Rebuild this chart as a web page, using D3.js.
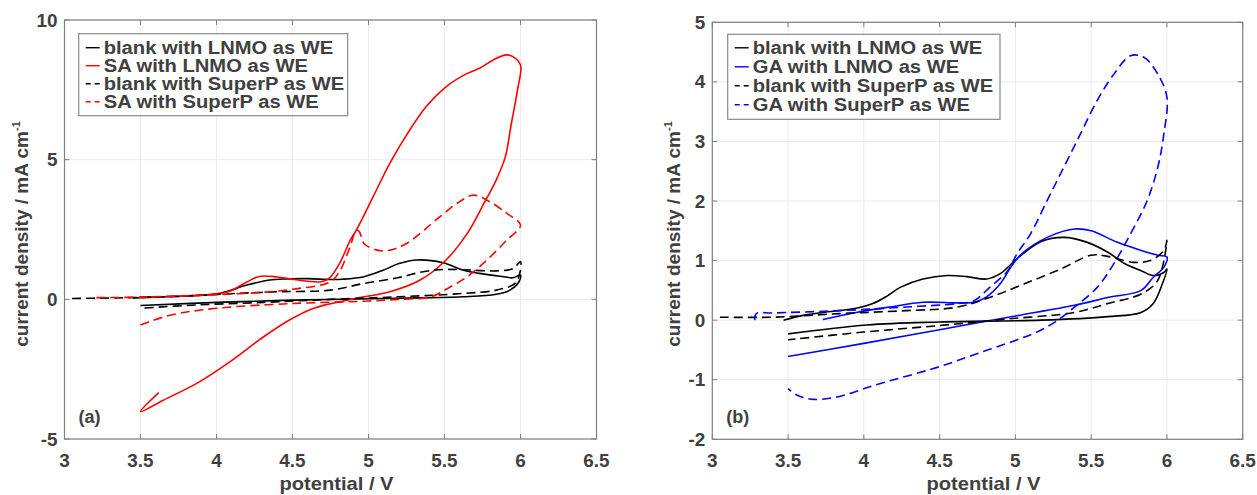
<!DOCTYPE html>
<html>
<head>
<meta charset="utf-8">
<script src="https://cdn.jsdelivr.net/npm/d3@7"></script>
<style>
  body { margin: 0; background: #fff; }
  svg { display: block; }
  text { font-family: "Liberation Sans", Arial, sans-serif; font-weight: bold; fill: #404040; }
</style>
</head>
<body>
<svg id="chart" width="1257" height="495"></svg>
<script>
// ticks
var xTicks = [3, 3.5, 4, 4.5, 5, 5.5, 6, 6.5];
var yTicksA = [-5, 0, 5, 10];
var yTicksB = [-2, -1, 0, 1, 2, 3, 4, 5];

// panel (a): [potential V, current mA cm-1]
var blankLnmoA = [[3.45,0.05],[3.6,0.08],[3.8,0.12],[4.02,0.21],[4.2,0.51],[4.35,0.69],[4.45,0.73],[4.6,0.74],[4.75,0.71],[4.83,0.72],[4.97,0.81],[5.1,1.05],[5.2,1.28],[5.32,1.41],[5.49,1.31],[5.62,1.05],[5.73,0.93],[5.89,0.81],[5.95,0.77],[6.0,0.87],[5.99,0.63],[5.93,0.33],[5.84,0.18],[5.62,0.09],[5.19,0.04],[4.5,-0.03],[4.0,-0.11],[3.5,-0.22]];
var saLnmoA = [[3.5,0.08],[3.8,0.12],[4.0,0.2],[4.09,0.3],[4.2,0.62],[4.28,0.82],[4.4,0.8],[4.5,0.72],[4.6,0.65],[4.69,0.63],[4.74,0.75],[4.81,1.29],[4.88,2.12],[4.92,2.48],[5.03,3.67],[5.14,4.87],[5.25,5.88],[5.38,6.9],[5.51,7.61],[5.65,8.09],[5.73,8.27],[5.82,8.57],[5.91,8.75],[5.95,8.69],[6.0,8.39],[5.98,7.49],[5.94,6.3],[5.9,5.1],[5.84,4.27],[5.76,3.44],[5.65,2.36],[5.51,1.41],[5.34,0.69],[5.14,0.27],[4.92,0.04],[4.86,-0.03],[4.64,-0.32],[4.48,-0.74],[4.31,-1.34],[4.09,-2.23],[3.87,-3.01],[3.65,-3.61],[3.5,-4.02],[3.62,-3.34]];
var blankSuperPA = [[3.05,0.03],[3.3,0.05],[3.5,0.07],[3.8,0.12],[4.09,0.2],[4.4,0.27],[4.75,0.33],[4.97,0.57],[5.19,0.77],[5.36,0.99],[5.49,1.07],[5.62,1.06],[5.84,1.02],[5.95,1.1],[6.0,1.35],[5.97,0.6],[5.84,0.33],[5.62,0.21],[5.19,0.09],[4.75,0.0],[4.31,-0.11],[3.87,-0.2],[3.5,-0.32]];
var saSuperPA = [[3.21,0.06],[3.5,0.08],[4.0,0.17],[4.3,0.25],[4.5,0.36],[4.75,0.63],[4.81,1.0],[4.88,1.9],[4.92,2.48],[4.94,2.42],[4.97,2.0],[5.05,1.77],[5.12,1.74],[5.25,2.0],[5.47,2.96],[5.6,3.5],[5.69,3.73],[5.78,3.55],[5.91,3.08],[6.0,2.66],[5.91,2.12],[5.78,1.41],[5.65,0.81],[5.52,0.39],[5.41,0.09],[5.2,0.0],[5.0,-0.06],[4.5,-0.15],[4.0,-0.32],[3.7,-0.56],[3.56,-0.8],[3.5,-0.92]];

// panel (b)
var blankLnmoB = [[3.47,0.0],[3.6,0.08],[3.73,0.13],[3.95,0.2],[4.06,0.28],[4.15,0.4],[4.24,0.55],[4.39,0.69],[4.55,0.75],[4.68,0.73],[4.81,0.69],[4.9,0.78],[5.01,1.03],[5.17,1.32],[5.32,1.39],[5.47,1.31],[5.61,1.14],[5.72,0.95],[5.83,0.83],[5.91,0.75],[5.98,0.8],[6.0,0.86],[5.97,0.61],[5.91,0.28],[5.83,0.13],[5.61,0.06],[5.17,0.0],[4.5,-0.03],[4.02,-0.08],[3.5,-0.23]];
var gaLnmoB = [[3.73,0.01],[3.95,0.13],[4.17,0.22],[4.39,0.3],[4.62,0.29],[4.73,0.3],[4.81,0.39],[4.9,0.61],[4.97,0.89],[5.04,1.11],[5.21,1.39],[5.39,1.53],[5.5,1.5],[5.67,1.31],[5.83,1.17],[5.94,1.09],[6.0,1.06],[5.98,0.89],[5.91,0.72],[5.83,0.5],[5.61,0.38],[5.39,0.25],[5.0,0.07],[4.5,-0.16],[4.0,-0.39],[3.5,-0.61]];
var blankSuperPB = [[3.05,0.05],[3.4,0.05],[3.84,0.11],[4.28,0.16],[4.62,0.22],[4.84,0.39],[5.06,0.61],[5.3,0.86],[5.5,1.09],[5.61,1.07],[5.78,0.97],[5.89,1.0],[5.98,1.17],[6.0,1.34],[5.94,0.67],[5.83,0.44],[5.61,0.28],[5.39,0.13],[4.95,0.02],[4.5,-0.09],[4.0,-0.2],[3.5,-0.33]];
var gaSuperPB = [[3.28,0.0],[3.29,0.11],[3.4,0.12],[3.84,0.16],[4.28,0.22],[4.62,0.28],[4.73,0.33],[4.83,0.55],[4.95,0.83],[5.01,1.11],[5.1,1.45],[5.21,2.01],[5.32,2.57],[5.43,3.13],[5.54,3.69],[5.65,4.13],[5.76,4.44],[5.85,4.41],[5.94,4.13],[6.0,3.74],[5.98,3.13],[5.94,2.57],[5.87,2.01],[5.76,1.45],[5.65,0.95],[5.54,0.55],[5.39,0.22],[5.28,0.0],[5.15,-0.19],[5.0,-0.34],[4.75,-0.56],[4.5,-0.78],[4.06,-1.1],[3.84,-1.28],[3.67,-1.33],[3.56,-1.26],[3.5,-1.15]];

var namesA = ["blank with LNMO as WE", "SA with LNMO as WE", "blank with SuperP as WE", "SA with SuperP as WE"];
var namesB = ["blank with LNMO as WE", "GA with LNMO as WE", "blank with SuperP as WE", "GA with SuperP as WE"];

var svg = d3.select("#chart");

function stretch(sel, k)
{
    sel.each(function () {
        var w = this.getComputedTextLength();
        d3.select(this).attr("textLength", w * k).attr("lengthAdjust", "spacingAndGlyphs");
    });
}

function drawPanel(cfg)
{
    var x = d3.scaleLinear().domain([3, 6.5]).range([cfg.left, cfg.right]);
    var y = d3.scaleLinear().domain(cfg.yDomain).range([cfg.bottom, cfg.top]);
    var g = svg.append("g");

    // grid
    g.selectAll(".gx").data(xTicks).enter().append("line")
        .attr("x1", d => x(d)).attr("x2", d => x(d))
        .attr("y1", cfg.top).attr("y2", cfg.bottom)
        .attr("stroke", "#ebebeb").attr("stroke-width", 1);
    g.selectAll(".gy").data(cfg.yTicks).enter().append("line")
        .attr("x1", cfg.left).attr("x2", cfg.right)
        .attr("y1", d => y(d)).attr("y2", d => y(d))
        .attr("stroke", "#ebebeb").attr("stroke-width", 1);

    // box + inner ticks
    g.append("rect")
        .attr("x", cfg.left).attr("y", cfg.top)
        .attr("width", cfg.right - cfg.left).attr("height", cfg.bottom - cfg.top)
        .attr("fill", "none").attr("stroke", "#808080").attr("stroke-width", 1.2);
    var tl = 5;
    xTicks.forEach(function (t) {
        g.append("line").attr("x1", x(t)).attr("x2", x(t)).attr("y1", cfg.bottom).attr("y2", cfg.bottom - tl).attr("stroke", "#808080");
        g.append("line").attr("x1", x(t)).attr("x2", x(t)).attr("y1", cfg.top).attr("y2", cfg.top + tl).attr("stroke", "#808080");
    });
    cfg.yTicks.forEach(function (t) {
        g.append("line").attr("x1", cfg.left).attr("x2", cfg.left + tl).attr("y1", y(t)).attr("y2", y(t)).attr("stroke", "#808080");
        g.append("line").attr("x1", cfg.right).attr("x2", cfg.right - tl).attr("y1", y(t)).attr("y2", y(t)).attr("stroke", "#808080");
    });

    // tick labels
    g.selectAll(".tx").data(xTicks).enter().append("text")
        .attr("x", d => x(d)).attr("y", cfg.bottom + 28)
        .attr("text-anchor", "middle").attr("font-size", 18)
        .text(d => d)
        .call(stretch, 1.05);
    g.selectAll(".ty").data(cfg.yTicks).enter().append("text")
        .attr("x", cfg.left - 7).attr("y", d => y(d) + 6.5)
        .attr("text-anchor", "end").attr("font-size", 18)
        .text(d => d)
        .call(stretch, 1.05);

    // axis labels
    g.append("text")
        .attr("x", (cfg.left + cfg.right) / 2 + 6).attr("y", 490)
        .attr("text-anchor", "middle").attr("font-size", 19)
        .text("potential / V")
        .call(stretch, 1.06);
    var yl = g.append("text")
        .attr("transform", "translate(" + cfg.ylabX + "," + cfg.ylabY + ") rotate(-90)")
        .attr("text-anchor", "middle").attr("font-size", 19);
    yl.append("tspan").text("current density / mA cm");
    yl.append("tspan").attr("font-size", 11).attr("dy", -8).text("-1");

    g.append("text")
        .attr("x", cfg.left + 14).attr("y", cfg.bottom - 16)
        .attr("font-size", 18).text(cfg.tag);

    // curves
    var line = d3.line()
        .x(d => x(d[0]))
        .y(d => y(d[1]))
        .curve(d3.curveCatmullRom.alpha(0.5));

    g.selectAll(".curve").data(cfg.series).enter().append("path")
        .attr("d", d => line(d.data))
        .attr("fill", "none")
        .attr("stroke", d => d.color)
        .attr("stroke-width", 1.6)
        .attr("stroke-dasharray", d => d.dash ? "9,5" : null);

    // legend
    var lg = g.append("g");
    lg.append("rect")
        .attr("x", cfg.legend.x).attr("y", cfg.legend.y)
        .attr("width", cfg.legend.w).attr("height", cfg.legend.h)
        .attr("fill", "#fff").attr("stroke", "#8a8a8a").attr("stroke-width", 1.2);
    var rows = lg.selectAll(".row").data(cfg.series).enter().append("g")
        .attr("transform", (d, i) => "translate(" + cfg.legend.x + "," + (cfg.legend.y + cfg.legend.first + i * cfg.legend.step) + ")");
    rows.append("line")
        .attr("x1", 7).attr("x2", 21)
        .attr("stroke", d => d.color).attr("stroke-width", 1.4)
        .attr("stroke-dasharray", d => d.dash ? "5,4" : null);
    rows.append("text")
        .attr("x", 25).attr("y", 6.5)
        .attr("font-size", 18)
        .text(d => d.name)
        .call(stretch, 1.12);
}

drawPanel({
    left: 64.5, right: 596.5, top: 20, bottom: 439,
    yDomain: [-5, 10], yTicks: yTicksA,
    ylabX: 28, ylabY: 234, tag: "(a)",
    legend: { x: 78.7, y: 33.7, w: 269, h: 82, first: 14, step: 18 },
    series: [
        { name: namesA[0], data: blankLnmoA, color: "#000000", dash: false },
        { name: namesA[1], data: saLnmoA, color: "#ff0000", dash: false },
        { name: namesA[2], data: blankSuperPA, color: "#000000", dash: true },
        { name: namesA[3], data: saSuperPA, color: "#ff0000", dash: true }
    ]
});

drawPanel({
    left: 712.3, right: 1242.7, top: 22.3, bottom: 439.3,
    yDomain: [-2, 5], yTicks: yTicksB,
    ylabX: 680, ylabY: 234, tag: "(b)",
    legend: { x: 727.7, y: 34.3, w: 272.3, h: 85, first: 13.5, step: 19 },
    series: [
        { name: namesB[0], data: blankLnmoB, color: "#000000", dash: false },
        { name: namesB[1], data: gaLnmoB, color: "#0000ff", dash: false },
        { name: namesB[2], data: blankSuperPB, color: "#000000", dash: true },
        { name: namesB[3], data: gaSuperPB, color: "#0000ff", dash: true }
    ]
});
</script>
</body>
</html>
